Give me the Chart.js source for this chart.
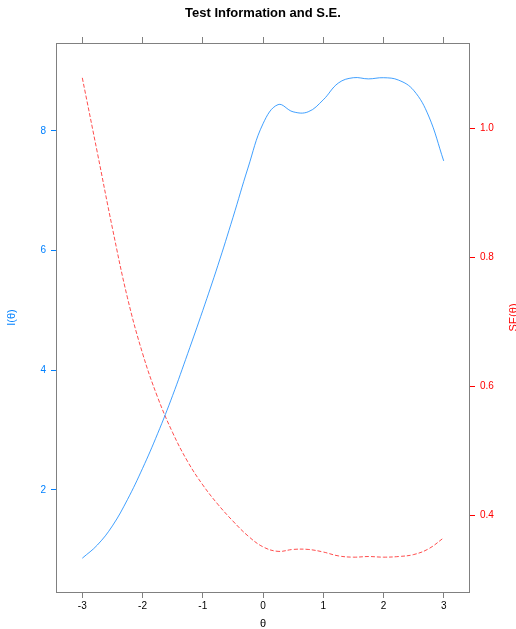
<!DOCTYPE html>
<html>
<head>
<meta charset="utf-8">
<script src="https://cdn.jsdelivr.net/npm/chart.js@4.4.1/dist/chart.umd.min.js"></script>
<style>
  html, body { margin: 0; padding: 0; background: #ffffff; }
  #wrap { width: 516px; height: 629px; position: relative; }
</style>
</head>
<body>
<div id="wrap"><canvas id="c"></canvas></div>
<script>
// Ability grid and the two curves evaluated on it
const theta = [-3, -2.75, -2.5, -2.25, -2, -1.75, -1.5, -1.25, -1, -0.75, -0.5, -0.25,
               0, 0.25, 0.5, 0.75, 1, 1.25, 1.5, 1.75, 2, 2.25, 2.5, 2.75, 3];
const information = [0.86, 1.08, 1.4, 1.84, 2.36, 2.94, 3.58, 4.28, 5.0, 5.75, 6.55, 7.38,
                     8.12, 8.44, 8.32, 8.32, 8.52, 8.8, 8.89, 8.87, 8.89, 8.85, 8.68, 8.25, 7.5];
const standardError = [1.078, 0.962, 0.845, 0.737, 0.651, 0.583, 0.528, 0.483, 0.447, 0.417, 0.391, 0.368,
                       0.351, 0.344, 0.347, 0.347, 0.343, 0.337, 0.335, 0.336, 0.335, 0.336, 0.339, 0.348, 0.365];

// Axis tick values
const thetaTicks = [-3, -2, -1, 0, 1, 2, 3];
const infoTicks = [2, 4, 6, 8];
const seTicks = [0.4, 0.6, 0.8, 1.0];

const FONT = "'Liberation Sans', Arial, Helvetica, sans-serif";
const BLUE = '#0080ff';
const RED = '#ff0000';
const GREY = '#808080';

const infoPoints = theta.map((t, i) => ({ x: t, y: information[i] }));
const sePoints = theta.map((t, i) => ({ x: t, y: standardError[i] }));

function fixedTicks(values) {
  return function (axis) { axis.ticks = values.map(v => ({ value: v })); };
}
function fixedWidth(w) { return function (axis) { axis.width = w; }; }
function fixedHeight(h) { return function (axis) { axis.height = h; }; }

// Panel box, main title and axis titles
const decorations = {
  id: 'decorations',
  afterDraw(chart) {
    const { ctx, chartArea: a } = chart;
    ctx.save();
    ctx.strokeStyle = GREY;
    ctx.lineWidth = 1;
    ctx.strokeRect(a.left - 0.5, a.top + 0.5, a.right - a.left + 1, a.bottom - a.top);

    const cx = (a.left + a.right) / 2;
    const cy = (a.top + a.bottom) / 2;
    ctx.textAlign = 'center';
    ctx.textBaseline = 'middle';

    ctx.fillStyle = '#000000';
    ctx.font = 'bold 13px ' + FONT;
    ctx.fillText('Test Information and S.E.', cx, 13);

    ctx.font = '11px ' + FONT;
    ctx.fillText('\u03b8', cx, 624);

    ctx.save();
    ctx.translate(12, cy);
    ctx.rotate(-Math.PI / 2);
    ctx.fillStyle = BLUE;
    ctx.fillText('I(\u03b8)', 0, 0);
    ctx.restore();

    ctx.save();
    ctx.translate(513.5, cy);
    ctx.rotate(-Math.PI / 2);
    ctx.fillStyle = RED;
    ctx.fillText('SE(\u03b8)', 0, 0);
    ctx.restore();

    ctx.restore();
  }
};

new Chart(document.getElementById('c'), {
  type: 'line',
  data: {
    datasets: [
      {
        label: 'I(\u03b8)',
        data: infoPoints,
        yAxisID: 'y',
        borderColor: 'rgba(0,128,255,0.75)',
        borderWidth: 1,
        pointRadius: 0,
        fill: false,
        tension: 0.4
      },
      {
        label: 'SE(\u03b8)',
        data: sePoints,
        yAxisID: 'y2',
        borderColor: 'rgba(255,0,0,0.7)',
        borderWidth: 1,
        borderDash: [4, 2],
        pointRadius: 0,
        fill: false,
        tension: 0.4
      }
    ]
  },
  options: {
    responsive: true,
    maintainAspectRatio: false,
    animation: false,
    layout: { padding: 0 },
    plugins: {
      legend: { display: false },
      title: { display: false },
      tooltip: { enabled: false }
    },
    scales: {
      x: {
        type: 'linear',
        position: 'bottom',
        min: -3.42,
        max: 3.42,
        afterBuildTicks: fixedTicks(thetaTicks),
        afterFit: fixedHeight(37),
        ticks: { color: '#000000', font: { family: FONT, size: 10 }, padding: 2, maxRotation: 0 },
        grid: { drawOnChartArea: false, drawTicks: true, tickLength: 6, color: GREY },
        border: { display: false }
      },
      xTop: {
        type: 'linear',
        position: 'top',
        min: -3.42,
        max: 3.42,
        afterBuildTicks: fixedTicks(thetaTicks),
        afterFit: fixedHeight(43),
        ticks: { color: 'rgba(0,0,0,0)', font: { family: FONT, size: 10 }, padding: 0, maxRotation: 0 },
        grid: { drawOnChartArea: false, drawTicks: true, tickLength: 6, color: GREY },
        border: { display: false }
      },
      y: {
        type: 'linear',
        position: 'left',
        min: 0.295,
        max: 9.47,
        afterBuildTicks: fixedTicks(infoTicks),
        afterFit: fixedWidth(57),
        ticks: { color: BLUE, font: { family: FONT, size: 10 }, padding: 5 },
        grid: { drawOnChartArea: false, drawTicks: true, tickLength: 6, color: BLUE },
        border: { display: false }
      },
      y2: {
        type: 'linear',
        position: 'right',
        min: 0.281,
        max: 1.132,
        afterBuildTicks: fixedTicks(seTicks),
        afterFit: fixedWidth(47),
        ticks: {
          color: RED,
          font: { family: FONT, size: 10 },
          padding: 5,
          callback: v => v.toFixed(1)
        },
        grid: { drawOnChartArea: false, drawTicks: true, tickLength: 6, color: RED },
        border: { display: false }
      }
    }
  },
  plugins: [decorations]
});
</script>
</body>
</html>
